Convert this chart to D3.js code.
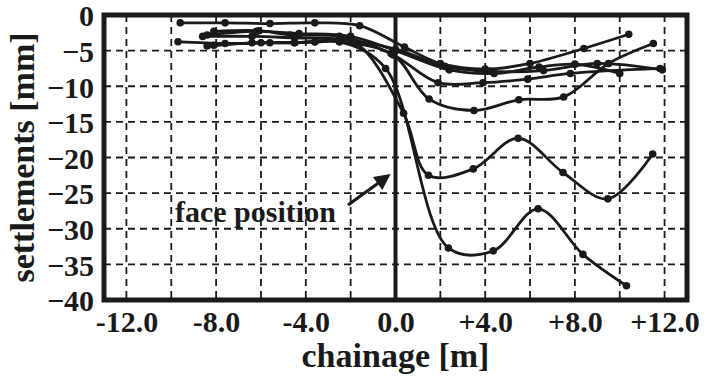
<!DOCTYPE html>
<html>
<head>
<meta charset="UTF-8">
<title>settlements</title>
<script src="https://cdn.jsdelivr.net/npm/d3@7/dist/d3.min.js"></script>
<style>
  body { margin: 0; background: #fff; }
  text { font-family: "Liberation Serif", "Times New Roman", serif; font-weight: bold; fill: #1a1a1a; }
</style>
</head>
<body>
<svg id="chart" width="716" height="380"></svg>
<script>
// chainage [m] / settlements [mm]
var curve1 = [[-9.6,-1.1],[-7.6,-1.1],[-5.6,-1.2],[-3.6,-1.1],[-1.6,-1.5],[0.4,-4.5],[2.0,-6.8],[4.0,-7.6],[6.0,-6.8],[8.4,-4.7],[10.4,-2.7]];
var curve2 = [[-8.4,-2.8],[-6.2,-2.3],[-4.3,-2.6],[-2.0,-3.0],[0.0,-5.0],[2.4,-7.7],[4.4,-8.2],[6.4,-7.3],[8.0,-6.9],[10.0,-8.2]];
var curve3 = [[-8.1,-2.3],[-6.1,-2.2],[-4.7,-2.8],[-2.5,-3.0],[-0.2,-5.4],[1.9,-9.5],[3.9,-9.5],[5.9,-9.0],[7.8,-8.2],[11.8,-7.5]];
var curve4 = [[-8.6,-3.0],[-6.4,-3.0],[-4.5,-3.2],[-2.5,-3.4],[0.0,-4.8],[2.2,-7.2],[4.2,-7.9],[6.6,-7.8],[9.0,-6.8],[11.9,-7.7]];
var curve5 = [[-8.1,-4.25],[-6.0,-3.9],[-4.5,-3.9],[-2.5,-3.75],[-0.1,-5.6],[1.5,-11.8],[3.5,-13.4],[5.5,-11.9],[7.5,-11.5],[9.5,-6.8],[11.5,-4.0]];
var curve6 = [[-9.7,-3.75],[-7.6,-4.0],[-5.6,-3.9],[-3.6,-3.8],[-1.8,-3.9],[0.36,-13.8],[1.47,-22.5],[3.47,-21.6],[5.47,-17.3],[7.47,-22.1],[9.47,-25.8],[11.47,-19.5]];
var curve7 = [[-8.4,-4.35],[-6.4,-3.9],[-4.5,-3.9],[-2.5,-3.75],[-0.44,-7.5],[2.36,-32.7],[4.36,-33.1],[6.36,-27.2],[8.36,-33.6],[10.3,-38.0]];
var curves = [curve1, curve2, curve3, curve4, curve5, curve6, curve7];

var xTicks = [-12, -8, -4, 0, 4, 8, 12];
var xGrid = [-12, -10, -8, -6, -4, -2, 2, 4, 6, 8, 10, 12];
var yTicks = [0, -5, -10, -15, -20, -25, -30, -35, -40];

var svg = d3.select("#chart");
var margin = {left: 104, right: 29, top: 15, bottom: 80};
var width = 716 - margin.left - margin.right,
    height = 380 - margin.top - margin.bottom;

var x = d3.scaleLinear().domain([-13, 13]).range([0, width]);
var y = d3.scaleLinear().domain([-40, 0]).range([height, 0]);

var g = svg.append("g").attr("transform", "translate(" + margin.left + "," + margin.top + ")");

// dashed grid
g.selectAll(".vgrid").data(xGrid).enter().append("line")
  .attr("x1", d => x(d)).attr("x2", d => x(d))
  .attr("y1", 0).attr("y2", height)
  .attr("stroke", "#1a1a1a").attr("stroke-width", 1.8).attr("stroke-dasharray", "7,5");
g.selectAll(".hgrid").data(yTicks.slice(1, -1)).enter().append("line")
  .attr("x1", 0).attr("x2", width)
  .attr("y1", d => y(d)).attr("y2", d => y(d))
  .attr("stroke", "#1a1a1a").attr("stroke-width", 1.8).attr("stroke-dasharray", "7,5");

// face position line
g.append("line").attr("x1", x(0)).attr("x2", x(0)).attr("y1", 0).attr("y2", height)
  .attr("stroke", "#1a1a1a").attr("stroke-width", 4);

// curves
var line = d3.line().x(d => x(d[0])).y(d => y(d[1])).curve(d3.curveCatmullRom.alpha(0.5));
curves.forEach(function(c) {
  g.append("path").datum(c).attr("d", line)
    .attr("fill", "none").attr("stroke", "#1a1a1a").attr("stroke-width", 2.8);
  g.selectAll(null).data(c).enter().append("circle")
    .attr("cx", d => x(d[0])).attr("cy", d => y(d[1])).attr("r", 3.8)
    .attr("fill", "#1a1a1a");
});

// frame
g.append("rect").attr("width", width).attr("height", height)
  .attr("fill", "none").attr("stroke", "#1a1a1a").attr("stroke-width", 5);

// axes
var xAxis = g.append("g").attr("transform", "translate(0," + height + ")")
  .call(d3.axisBottom(x).tickValues(xTicks).tickSize(0).tickPadding(11)
    .tickFormat(d => (d > 0 ? "+" : "") + d.toFixed(1)));
var yAxis = g.append("g")
  .call(d3.axisLeft(y).tickValues(yTicks).tickSize(0).tickPadding(10));
[xAxis, yAxis].forEach(function(a) {
  a.select(".domain").remove();
  a.selectAll("text").style("font-size", "30px").attr("fill", "#1a1a1a");
});
xAxis.selectAll("text").attr("dy", "0.71em");
yAxis.selectAll("text").attr("dy", "0.36em");

// titles
svg.append("text").attr("x", margin.left + x(0)).attr("y", 367)
  .attr("text-anchor", "middle").style("font-size", "34px").text("chainage [m]");
svg.append("text").attr("transform", "translate(34," + (margin.top + height / 2) + ") rotate(-90)")
  .attr("text-anchor", "middle").style("font-size", "34px").text("settlements [mm]");

// annotation
g.append("text").attr("x", 71).attr("y", 207).style("font-size", "30px").text("face position");
svg.append("defs").append("marker").attr("id", "arrow")
  .attr("viewBox", "0 0 10 10").attr("refX", 8).attr("refY", 5)
  .attr("markerWidth", 6).attr("markerHeight", 5).attr("orient", "auto")
  .append("path").attr("d", "M0,0 L10,5 L0,10 z").attr("fill", "#1a1a1a");
g.append("line").attr("x1", 244).attr("y1", 190).attr("x2", 284).attr("y2", 161)
  .attr("stroke", "#1a1a1a").attr("stroke-width", 3.2).attr("marker-end", "url(#arrow)");
</script>
</body>
</html>
